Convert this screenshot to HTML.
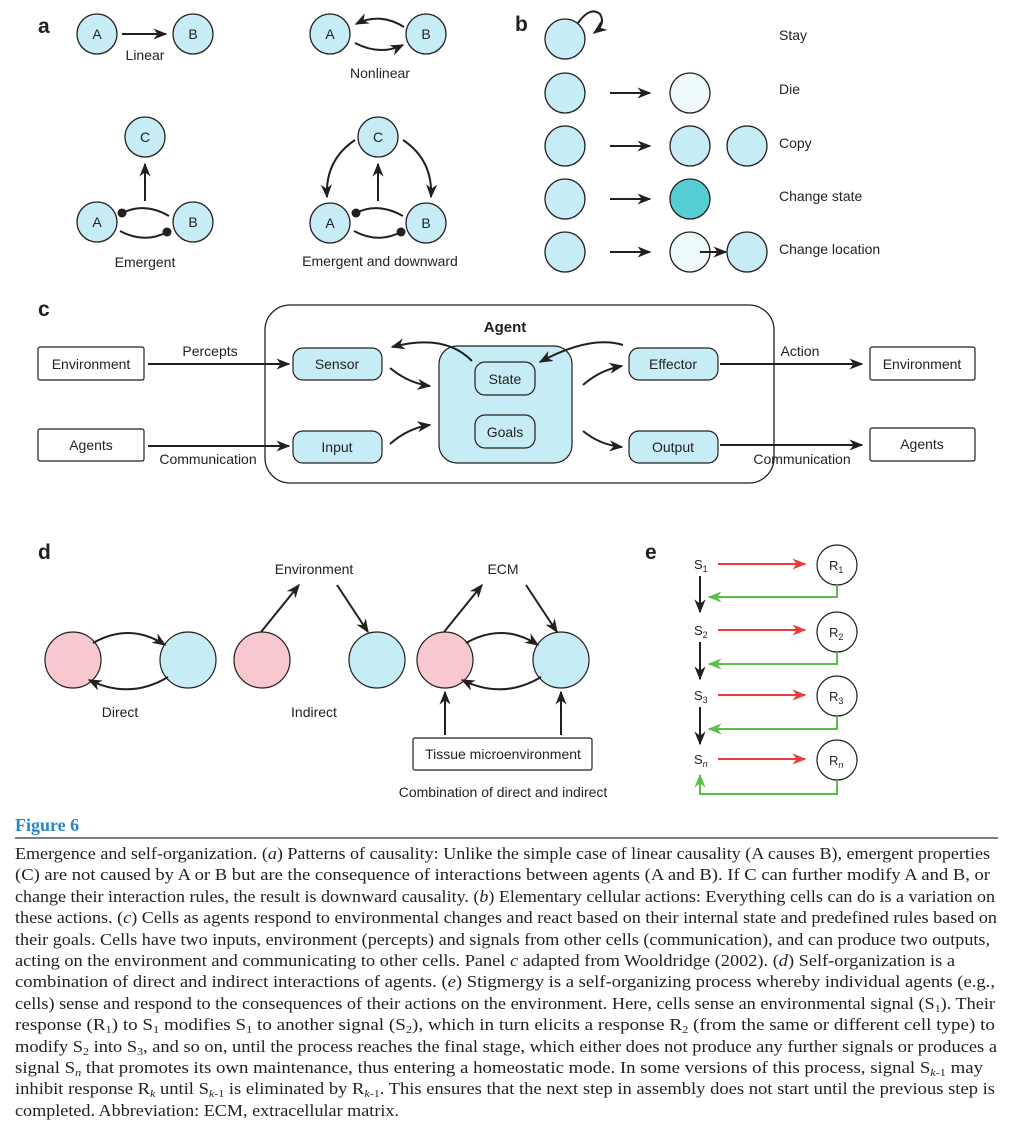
<!DOCTYPE html>
<html><head><meta charset="utf-8"><style>
body{margin:0;background:#fff;width:1015px;height:1133px;overflow:hidden}
svg{display:block}
.s{font-family:"Liberation Sans",sans-serif;font-size:14px;fill:#231f20}
.L{font-family:"Liberation Sans",sans-serif;font-size:21px;font-weight:bold;fill:#231f20}
.cap{font-family:"Liberation Serif",serif;font-size:17px;fill:#231f20}
</style></head><body>
<svg width="1015" height="1133" viewBox="0 0 1015 1133" xmlns="http://www.w3.org/2000/svg">
<defs>
<marker id="ah" viewBox="0 0 10 10" refX="9" refY="5" markerWidth="7" markerHeight="7" orient="auto-start-reverse"><path d="M0,1 L10,5 L0,9 L3,5z" fill="#231f20"/></marker>
<marker id="ar" viewBox="0 0 10 10" refX="9" refY="5" markerWidth="7" markerHeight="7" orient="auto"><path d="M0,1 L10,5 L0,9 L3,5z" fill="#ee3a3a"/></marker>
<marker id="ag" viewBox="0 0 10 10" refX="9" refY="5" markerWidth="7" markerHeight="7" orient="auto"><path d="M0,1 L10,5 L0,9 L3,5z" fill="#5cbf4a"/></marker>
<marker id="dot" viewBox="0 0 10 10" refX="5" refY="5" markerWidth="5" markerHeight="5"><circle cx="5" cy="5" r="4.5" fill="#231f20"/></marker>
</defs>
<g stroke="#231f20" stroke-width="2" fill="none">
<line x1="122" y1="34" x2="166" y2="34" marker-end="url(#ah)"/>
<path d="M404,27 Q380,12 356,24" marker-end="url(#ah)"/>
<path d="M355,43 Q380,56 403,45" marker-end="url(#ah)"/>
<line x1="145" y1="201" x2="145" y2="164" marker-end="url(#ah)"/>
<path d="M169,216 Q145,202 122,213" marker-end="url(#dot)"/>
<path d="M120,231 Q145,244 167,232" marker-end="url(#dot)"/>
<line x1="378" y1="201" x2="378" y2="164" marker-end="url(#ah)"/>
<path d="M403,216 Q378,202 356,213" marker-end="url(#dot)"/>
<path d="M354,231 Q378,244 401,232" marker-end="url(#dot)"/>
<path d="M355,140 Q325,160 327,197" marker-end="url(#ah)"/>
<path d="M403,140 Q433,160 431,197" marker-end="url(#ah)"/>
</g>
<g stroke="#231f20" stroke-width="1.3" fill="#c6ecf6">
<circle cx="97" cy="34" r="20"/><circle cx="193" cy="34" r="20"/>
<circle cx="330" cy="34" r="20"/><circle cx="426" cy="34" r="20"/>
<circle cx="145" cy="137" r="20"/><circle cx="97" cy="222" r="20"/><circle cx="193" cy="222" r="20"/>
<circle cx="378" cy="137" r="20"/><circle cx="330" cy="223" r="20"/><circle cx="426" cy="223" r="20"/>
</g>
<text class="L" x="38" y="33">a</text>
<g class="s" text-anchor="middle">
<text x="97" y="39">A</text><text x="193" y="39">B</text><text x="330" y="39">A</text><text x="426" y="39">B</text>
<text x="145" y="142">C</text><text x="97" y="227">A</text><text x="193" y="227">B</text>
<text x="378" y="142">C</text><text x="330" y="228">A</text><text x="426" y="228">B</text>
<text x="145" y="60">Linear</text><text x="380" y="78">Nonlinear</text>
<text x="145" y="267">Emergent</text><text x="380" y="266">Emergent and downward</text>
</g>
<text class="L" x="515" y="31">b</text>
<g stroke="#231f20" stroke-width="1.3" fill="#c6ecf6">
<circle cx="565" cy="39" r="20"/><circle cx="565" cy="93" r="20"/><circle cx="565" cy="146" r="20"/><circle cx="565" cy="199" r="20"/><circle cx="565" cy="252" r="20"/>
<circle cx="690" cy="93" r="20" fill="#eef9fc"/>
<circle cx="690" cy="146" r="20"/><circle cx="747" cy="146" r="20"/>
<circle cx="690" cy="199" r="20" fill="#56cdd3"/>
<circle cx="690" cy="252" r="20" fill="#eef9fc"/><circle cx="747" cy="252" r="20"/>
</g>
<g stroke="#231f20" stroke-width="2" fill="none">
<path d="M578,23 Q590,6 600,14 Q606,24 594,33" marker-end="url(#ah)"/>
<line x1="610" y1="93" x2="650" y2="93" marker-end="url(#ah)"/>
<line x1="610" y1="146" x2="650" y2="146" marker-end="url(#ah)"/>
<line x1="610" y1="199" x2="650" y2="199" marker-end="url(#ah)"/>
<line x1="610" y1="252" x2="650" y2="252" marker-end="url(#ah)"/>
<line x1="700" y1="252" x2="726" y2="252" marker-end="url(#ah)"/>
</g>
<g class="s">
<text x="779" y="40">Stay</text><text x="779" y="94">Die</text><text x="779" y="148">Copy</text><text x="779" y="201">Change state</text><text x="779" y="254">Change location</text>
</g>
<text class="L" x="38" y="316">c</text>
<rect x="265" y="305" width="509" height="178" rx="25" fill="none" stroke="#231f20" stroke-width="1.3"/>
<text x="505" y="332" text-anchor="middle" style="font-family:'Liberation Sans',sans-serif;font-size:15px;font-weight:bold;fill:#231f20">Agent</text>
<g stroke="#231f20" stroke-width="1.2" fill="#fff">
<rect x="38" y="347" width="106" height="33" rx="2"/><rect x="38" y="429" width="106" height="32" rx="2"/>
<rect x="870" y="347" width="105" height="33" rx="2"/><rect x="870" y="428" width="105" height="33" rx="2"/>
</g>
<g stroke="#231f20" stroke-width="1.2" fill="#c6ecf6">
<rect x="293" y="348" width="89" height="32" rx="10"/><rect x="293" y="431" width="89" height="32" rx="10"/>
<rect x="629" y="348" width="89" height="32" rx="10"/><rect x="629" y="431" width="89" height="32" rx="10"/>
<rect x="439" y="346" width="133" height="117" rx="18"/>
<rect x="475" y="362" width="60" height="33" rx="10"/><rect x="475" y="415" width="60" height="33" rx="10"/>
</g>
<g stroke="#231f20" stroke-width="2" fill="none">
<line x1="148" y1="364" x2="289" y2="364" marker-end="url(#ah)"/>
<line x1="148" y1="446" x2="289" y2="446" marker-end="url(#ah)"/>
<line x1="720" y1="364" x2="862" y2="364" marker-end="url(#ah)"/>
<line x1="720" y1="445" x2="862" y2="445" marker-end="url(#ah)"/>
<path d="M472,361 Q445,333 392,347" marker-end="url(#ah)"/>
<path d="M390,368 Q408,383 430,386" marker-end="url(#ah)"/>
<path d="M390,444 Q408,428 430,425" marker-end="url(#ah)"/>
<path d="M623,345 Q590,335 540,362" marker-end="url(#ah)"/>
<path d="M583,385 Q600,370 622,366" marker-end="url(#ah)"/>
<path d="M583,431 Q600,445 622,447" marker-end="url(#ah)"/>
</g>
<g class="s" text-anchor="middle">
<text x="91" y="369">Environment</text><text x="91" y="450">Agents</text>
<text x="922" y="369">Environment</text><text x="922" y="449">Agents</text>
<text x="337" y="369">Sensor</text><text x="337" y="452">Input</text>
<text x="673" y="369">Effector</text><text x="673" y="452">Output</text>
<text x="505" y="384">State</text><text x="505" y="437">Goals</text>
<text x="210" y="356">Percepts</text><text x="208" y="464">Communication</text>
<text x="800" y="356">Action</text><text x="802" y="464">Communication</text>
</g>
<text class="L" x="38" y="559">d</text>
<g stroke="#231f20" stroke-width="1.2">
<circle cx="73" cy="660" r="28" fill="#f7c8cd"/><circle cx="188" cy="660" r="28" fill="#c6ecf6"/>
<circle cx="262" cy="660" r="28" fill="#f7c8cd"/><circle cx="377" cy="660" r="28" fill="#c6ecf6"/>
<circle cx="445" cy="660" r="28" fill="#f7c8cd"/><circle cx="561" cy="660" r="28" fill="#c6ecf6"/>
<rect x="413" y="738" width="179" height="32" rx="2" fill="#fff"/>
</g>
<g stroke="#231f20" stroke-width="2" fill="none">
<path d="M93,643 Q130,622 165,645" marker-end="url(#ah)"/>
<path d="M168,677 Q130,700 89,680" marker-end="url(#ah)"/>
<line x1="261" y1="632" x2="299" y2="585" marker-end="url(#ah)"/>
<line x1="337" y1="585" x2="368" y2="632" marker-end="url(#ah)"/>
<line x1="444" y1="632" x2="482" y2="585" marker-end="url(#ah)"/>
<line x1="526" y1="585" x2="557" y2="632" marker-end="url(#ah)"/>
<path d="M466,643 Q503,622 538,645" marker-end="url(#ah)"/>
<path d="M541,677 Q503,700 462,680" marker-end="url(#ah)"/>
<line x1="445" y1="735" x2="445" y2="692" marker-end="url(#ah)"/>
<line x1="561" y1="735" x2="561" y2="692" marker-end="url(#ah)"/>
</g>
<g class="s" text-anchor="middle">
<text x="120" y="717">Direct</text><text x="314" y="717">Indirect</text>
<text x="314" y="574">Environment</text><text x="503" y="574">ECM</text>
<text x="503" y="759">Tissue microenvironment</text>
<text x="503" y="797">Combination of direct and indirect</text>
</g>
<text class="L" x="645" y="559">e</text>
<g stroke="#231f20" stroke-width="1.2" fill="#fff">
<circle cx="837" cy="565" r="20"/><circle cx="837" cy="632" r="20"/><circle cx="837" cy="696" r="20"/><circle cx="837" cy="760" r="20"/>
</g>
<g stroke-width="2" fill="none">
<g stroke="#ee3a3a">
<line x1="718" y1="564" x2="805" y2="564" marker-end="url(#ar)"/>
<line x1="718" y1="630" x2="805" y2="630" marker-end="url(#ar)"/>
<line x1="718" y1="695" x2="805" y2="695" marker-end="url(#ar)"/>
<line x1="718" y1="759" x2="805" y2="759" marker-end="url(#ar)"/>
</g>
<g stroke="#5cbf4a">
<path d="M837,585 V597 H709" marker-end="url(#ag)"/>
<path d="M837,652 V664 H709" marker-end="url(#ag)"/>
<path d="M837,716 V729 H709" marker-end="url(#ag)"/>
<path d="M837,780 V794 H700 V775" marker-end="url(#ag)"/>
</g>
<g stroke="#231f20">
<line x1="700" y1="576" x2="700" y2="612" marker-end="url(#ah)"/>
<line x1="700" y1="642" x2="700" y2="679" marker-end="url(#ah)"/>
<line x1="700" y1="707" x2="700" y2="744" marker-end="url(#ah)"/>
</g>
</g>
<g class="s" style="font-size:13px">
<text x="694" y="569">S<tspan font-size="9" dy="3">1</tspan></text>
<text x="694" y="635">S<tspan font-size="9" dy="3">2</tspan></text>
<text x="694" y="700">S<tspan font-size="9" dy="3">3</tspan></text>
<text x="694" y="764">S<tspan font-size="9" dy="3" font-style="italic">n</tspan></text>
<text x="829" y="570">R<tspan font-size="9" dy="3">1</tspan></text>
<text x="829" y="637">R<tspan font-size="9" dy="3">2</tspan></text>
<text x="829" y="701">R<tspan font-size="9" dy="3">3</tspan></text>
<text x="829" y="765">R<tspan font-size="9" dy="3" font-style="italic">n</tspan></text>
</g>
<text x="15" y="831" style="font-family:'Liberation Serif',serif;font-size:18px;font-weight:bold;fill:#2a86c8">Figure 6</text>
<line x1="15" y1="838" x2="998" y2="838" stroke="#555" stroke-width="1.5"/>
<g class="cap">
<text x="15" y="859" textLength="975" lengthAdjust="spacingAndGlyphs">Emergence and self-organization. (<tspan font-style="italic">a</tspan>) Patterns of causality: Unlike the simple case of linear causality (A causes B), emergent properties</text>
<text x="15" y="880" textLength="975" lengthAdjust="spacingAndGlyphs">(C) are not caused by A or B but are the consequence of interactions between agents (A and B). If C can further modify A and B, or</text>
<text x="15" y="902" textLength="980" lengthAdjust="spacingAndGlyphs">change their interaction rules, the result is downward causality. (<tspan font-style="italic">b</tspan>) Elementary cellular actions: Everything cells can do is a variation on</text>
<text x="15" y="923" textLength="982" lengthAdjust="spacingAndGlyphs">these actions. (<tspan font-style="italic">c</tspan>) Cells as agents respond to environmental changes and react based on their internal state and predefined rules based on</text>
<text x="15" y="945" textLength="975" lengthAdjust="spacingAndGlyphs">their goals. Cells have two inputs, environment (percepts) and signals from other cells (communication), and can produce two outputs,</text>
<text x="15" y="966" textLength="940" lengthAdjust="spacingAndGlyphs">acting on the environment and communicating to other cells. Panel <tspan font-style="italic">c</tspan> adapted from Wooldridge (2002). (<tspan font-style="italic">d</tspan>) Self-organization is a</text>
<text x="15" y="987" textLength="980" lengthAdjust="spacingAndGlyphs">combination of direct and indirect interactions of agents. (<tspan font-style="italic">e</tspan>) Stigmergy is a self-organizing process whereby individual agents (e.g.,</text>
<text x="15" y="1009" textLength="980" lengthAdjust="spacingAndGlyphs">cells) sense and respond to the consequences of their actions on the environment. Here, cells sense an environmental signal (S<tspan font-size="11" dy="3">1</tspan><tspan dy="-3">). Their</tspan></text>
<text x="15" y="1030" textLength="980" lengthAdjust="spacingAndGlyphs">response (R<tspan font-size="11" dy="3">1</tspan><tspan dy="-3">) to S</tspan><tspan font-size="11" dy="3">1</tspan><tspan dy="-3"> modifies S</tspan><tspan font-size="11" dy="3">1</tspan><tspan dy="-3"> to another signal (S</tspan><tspan font-size="11" dy="3">2</tspan><tspan dy="-3">), which in turn elicits a response R</tspan><tspan font-size="11" dy="3">2</tspan><tspan dy="-3"> (from the same or different cell type) to</tspan></text>
<text x="15" y="1052" textLength="982" lengthAdjust="spacingAndGlyphs">modify S<tspan font-size="11" dy="3">2</tspan><tspan dy="-3"> into S</tspan><tspan font-size="11" dy="3">3</tspan><tspan dy="-3">, and so on, until the process reaches the final stage, which either does not produce any further signals or produces a</tspan></text>
<text x="15" y="1073" textLength="968" lengthAdjust="spacingAndGlyphs">signal S<tspan font-size="11" dy="3" font-style="italic">n</tspan><tspan dy="-3"> that promotes its own maintenance, thus entering a homeostatic mode. In some versions of this process, signal S</tspan><tspan font-size="11" dy="3"><tspan font-style="italic">k</tspan>-1</tspan><tspan dy="-3"> may</tspan></text>
<text x="15" y="1094" textLength="980" lengthAdjust="spacingAndGlyphs">inhibit response R<tspan font-size="11" dy="3" font-style="italic">k</tspan><tspan dy="-3"> until S</tspan><tspan font-size="11" dy="3"><tspan font-style="italic">k</tspan>-1</tspan><tspan dy="-3"> is eliminated by R</tspan><tspan font-size="11" dy="3"><tspan font-style="italic">k</tspan>-1</tspan><tspan dy="-3">. This ensures that the next step in assembly does not start until the previous step is</tspan></text>
<text x="15" y="1116" textLength="384" lengthAdjust="spacingAndGlyphs">completed. Abbreviation: ECM, extracellular matrix.</text>
</g>
</svg>
</body></html>
